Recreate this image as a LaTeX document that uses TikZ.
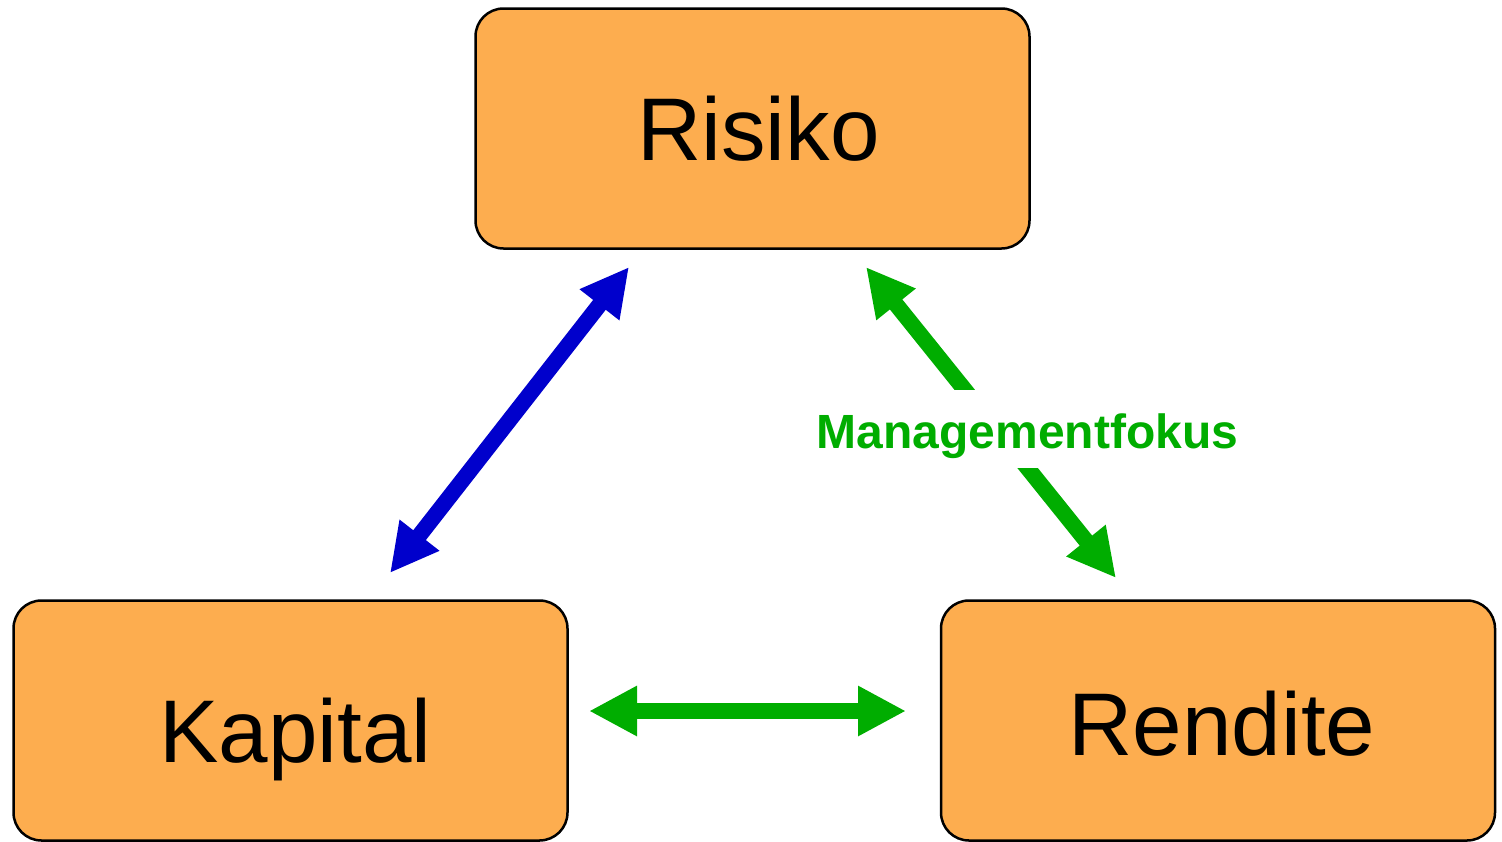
\documentclass[tikz,border=0pt]{standalone}
\usepackage{fontspec}
\setmainfont{Liberation Sans}
\usetikzlibrary{arrows.meta}

\definecolor{boxorange}{HTML}{FDAD4F}
\definecolor{linkblue}{HTML}{0000CC}
\definecolor{linkgreen}{HTML}{00AD00}

\tikzset{
  factor/.style={draw=black, line width=2.5pt, fill=boxorange, rounded corners=28pt,
    minimum width=554pt, inner sep=0pt, text depth=0pt,
    font=\fontsize{89}{100}\selectfont},
  link/.style={line width=16pt,
    {Triangle[length=48pt,width=47pt]}-{Triangle[length=48pt,width=47pt]}},
  focuslabel/.style={fill=white, inner sep=0pt, text height=58pt, text depth=20pt,
    text=linkgreen, font=\fontsize{48}{56}\selectfont\bfseries, anchor=base}
}

\begin{document}
\begin{tikzpicture}[x=1pt, y=-1pt]
  \useasboundingbox (0,0) rectangle (1502,841);

  % the three factors (labels sit slightly right of the box centre)
  \node[factor, minimum height=240pt, text height=63pt] (risiko)  at (752.5,128.5) {\hspace*{12pt}Risiko};
  \node[factor, minimum height=240pt, text height=84pt] (kapital) at (290.5,720.5) {\hspace*{10pt}Kapital};
  \node[factor, minimum height=240pt, text height=70pt] (rendite) at (1218,720.5) {\hspace*{8pt}Rendite};

  % arrow end points next to the boxes
  \coordinate (kr1) at (390,573);
  \coordinate (kr2) at (629,267);
  \coordinate (rr1) at (866,267);
  \coordinate (rr2) at (1116,578);
  \coordinate (kd1) at (589,711);
  \coordinate (kd2) at (906,711);

  % interactions
  \draw[link, linkblue]  (kr1) -- (kr2);
  \draw[link, linkgreen] (kd1) -- (kd2);
  \draw[link, linkgreen] (rr1) -- (rr2);

  \node[focuslabel] (fokus) at (1027.5,448) {Managementfokus};
\end{tikzpicture}
\end{document}
